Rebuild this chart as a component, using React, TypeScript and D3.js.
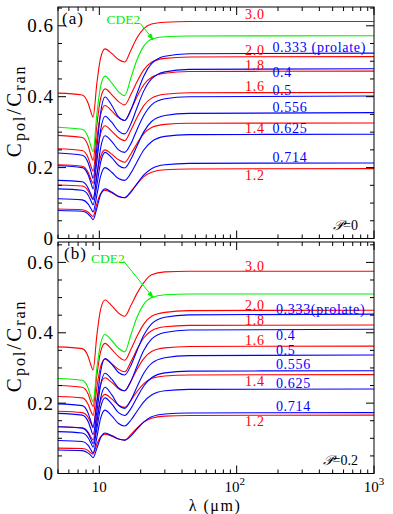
import React from 'react';
import * as d3 from 'd3';

// wavelength grid (micron), shared by every curve
const LAMBDA = [5, 7.5, 8.3, 8.7, 9.0, 9.6, 10.2, 11.0, 12.3, 13.8, 15.3, 17, 18.8, 21, 24, 30, 45, 1000];

// panel (a), P = 0
const A_OBL_30 = [0.410, 0.405, 0.381, 0.356, 0.342, 0.439, 0.508, 0.535, 0.522, 0.505, 0.498, 0.532, 0.566, 0.591, 0.605, 0.610, 0.612, 0.612];
const A_CDE2 = [0.314, 0.308, 0.285, 0.259, 0.245, 0.352, 0.428, 0.458, 0.439, 0.414, 0.403, 0.454, 0.504, 0.542, 0.562, 0.569, 0.571, 0.572];
const A_OBL_20 = [0.291, 0.285, 0.261, 0.234, 0.220, 0.321, 0.394, 0.422, 0.406, 0.386, 0.377, 0.407, 0.442, 0.475, 0.497, 0.508, 0.512, 0.513];
const A_OBL_18 = [0.253, 0.248, 0.227, 0.203, 0.190, 0.283, 0.349, 0.375, 0.360, 0.341, 0.333, 0.364, 0.400, 0.433, 0.455, 0.466, 0.471, 0.472];
const A_OBL_16 = [0.208, 0.204, 0.186, 0.166, 0.155, 0.237, 0.295, 0.318, 0.303, 0.284, 0.276, 0.306, 0.341, 0.374, 0.396, 0.407, 0.411, 0.412];
const A_OBL_14 = [0.151, 0.148, 0.134, 0.118, 0.110, 0.180, 0.230, 0.250, 0.238, 0.222, 0.215, 0.239, 0.268, 0.295, 0.313, 0.322, 0.325, 0.326];
const A_OBL_12 = [0.083, 0.081, 0.074, 0.066, 0.062, 0.099, 0.126, 0.136, 0.129, 0.118, 0.115, 0.133, 0.154, 0.174, 0.187, 0.194, 0.196, 0.197];
const A_PRO_333 = [0.241, 0.235, 0.213, 0.188, 0.170, 0.257, 0.353, 0.399, 0.376, 0.343, 0.333, 0.363, 0.409, 0.457, 0.493, 0.514, 0.521, 0.523];
const A_PRO_400 = [0.205, 0.200, 0.179, 0.156, 0.140, 0.218, 0.304, 0.345, 0.328, 0.303, 0.295, 0.324, 0.369, 0.415, 0.450, 0.470, 0.477, 0.479];
const A_PRO_500 = [0.164, 0.160, 0.142, 0.124, 0.110, 0.178, 0.254, 0.290, 0.274, 0.250, 0.243, 0.268, 0.307, 0.346, 0.377, 0.394, 0.400, 0.402];
const A_PRO_556 = [0.140, 0.136, 0.122, 0.106, 0.095, 0.151, 0.213, 0.243, 0.228, 0.206, 0.199, 0.224, 0.261, 0.300, 0.330, 0.347, 0.353, 0.355];
const A_PRO_625 = [0.112, 0.109, 0.097, 0.084, 0.075, 0.123, 0.175, 0.200, 0.187, 0.169, 0.164, 0.185, 0.216, 0.249, 0.273, 0.288, 0.293, 0.294];
const A_PRO_714 = [0.079, 0.077, 0.069, 0.060, 0.053, 0.086, 0.123, 0.140, 0.131, 0.119, 0.115, 0.131, 0.154, 0.179, 0.197, 0.208, 0.212, 0.213];

// panel (b), P = 0.2
const B_OBL_30 = [0.360, 0.355, 0.332, 0.307, 0.294, 0.394, 0.465, 0.493, 0.477, 0.456, 0.447, 0.478, 0.512, 0.542, 0.565, 0.573, 0.575, 0.575];
const B_CDE2 = [0.270, 0.265, 0.242, 0.217, 0.204, 0.300, 0.368, 0.395, 0.378, 0.356, 0.346, 0.395, 0.444, 0.480, 0.500, 0.508, 0.510, 0.510];
const B_OBL_20 = [0.250, 0.245, 0.225, 0.202, 0.190, 0.280, 0.345, 0.370, 0.353, 0.332, 0.322, 0.353, 0.390, 0.424, 0.447, 0.458, 0.463, 0.464];
const B_OBL_18 = [0.219, 0.215, 0.196, 0.176, 0.165, 0.245, 0.303, 0.325, 0.312, 0.296, 0.289, 0.318, 0.353, 0.385, 0.406, 0.417, 0.421, 0.422];
const B_OBL_16 = [0.177, 0.173, 0.159, 0.142, 0.133, 0.203, 0.253, 0.272, 0.259, 0.241, 0.235, 0.263, 0.296, 0.326, 0.347, 0.357, 0.361, 0.362];
const B_OBL_14 = [0.133, 0.130, 0.117, 0.103, 0.095, 0.160, 0.207, 0.225, 0.212, 0.194, 0.188, 0.208, 0.233, 0.255, 0.270, 0.277, 0.280, 0.281];
const B_OBL_12 = [0.072, 0.071, 0.065, 0.058, 0.055, 0.084, 0.104, 0.112, 0.106, 0.098, 0.095, 0.111, 0.129, 0.146, 0.157, 0.163, 0.165, 0.166];
const B_PRO_333 = [0.198, 0.193, 0.171, 0.147, 0.130, 0.205, 0.288, 0.327, 0.311, 0.287, 0.280, 0.308, 0.349, 0.392, 0.425, 0.444, 0.451, 0.453];
const B_PRO_400 = [0.171, 0.166, 0.147, 0.125, 0.110, 0.177, 0.250, 0.285, 0.268, 0.243, 0.235, 0.263, 0.305, 0.349, 0.382, 0.401, 0.408, 0.410];
const B_PRO_500 = [0.133, 0.129, 0.114, 0.097, 0.085, 0.146, 0.213, 0.245, 0.224, 0.194, 0.185, 0.209, 0.246, 0.284, 0.313, 0.329, 0.335, 0.337];
const B_PRO_556 = [0.119, 0.115, 0.101, 0.086, 0.075, 0.128, 0.187, 0.215, 0.198, 0.173, 0.165, 0.185, 0.216, 0.248, 0.272, 0.286, 0.291, 0.292];
const B_PRO_625 = [0.094, 0.091, 0.080, 0.067, 0.058, 0.104, 0.156, 0.180, 0.164, 0.142, 0.135, 0.152, 0.177, 0.203, 0.223, 0.235, 0.239, 0.240];
const B_PRO_714 = [0.067, 0.065, 0.058, 0.051, 0.045, 0.072, 0.101, 0.115, 0.108, 0.098, 0.095, 0.107, 0.126, 0.146, 0.161, 0.169, 0.172, 0.173];

// curve labels: text, family, label position (lambda, value)
const A_LABELS = [
  ['3.0', 'obl', 115, 0.619], ['2.0', 'obl', 115, 0.518], ['1.8', 'obl', 115, 0.475],
  ['1.6', 'obl', 115, 0.415], ['1.4', 'obl', 115, 0.298], ['1.2', 'obl', 115, 0.165],
  ['0.333 (prolate)', 'pro', 182, 0.527], ['0.4', 'pro', 182, 0.456], ['0.5', 'pro', 182, 0.405],
  ['0.556', 'pro', 182, 0.357], ['0.625', 'pro', 182, 0.298], ['0.714', 'pro', 182, 0.216],
];
const B_LABELS = [
  ['3.0', 'obl', 115, 0.576], ['2.0', 'obl', 115, 0.466], ['1.8', 'obl', 115, 0.422],
  ['1.6', 'obl', 115, 0.365], ['1.4', 'obl', 115, 0.249], ['1.2', 'obl', 115, 0.136],
  ['0.333(prolate)', 'pro', 193, 0.453], ['0.4', 'pro', 193, 0.379], ['0.5', 'pro', 193, 0.336],
  ['0.556', 'pro', 193, 0.296], ['0.625', 'pro', 193, 0.244], ['0.714', 'pro', 193, 0.178],
];

const X_MAJOR = [10, 100, 1000];
const X_MINOR = [5, 6, 7, 8, 9, 20, 30, 40, 50, 60, 70, 80, 90, 200, 300, 400, 500, 600, 700, 800, 900];
const Y_MAJOR = [0, 0.2, 0.4, 0.6];
const Y_MINOR = [0.05, 0.1, 0.15, 0.25, 0.3, 0.35, 0.45, 0.5, 0.55, 0.65];

const RED = '#ff0000';
const BLUE = '#0000ff';
const GREEN = '#00f000';
const SERIF = '"Liberation Serif", "Times New Roman", serif';

const x = d3.scaleLog().domain([5, 1000]).range([58, 374]);

function Panel({ top, bottom, ymax, oblate, prolate, cde, labels, tag, tagPos, cdePos, arrow, pval, xLabels }) {
  const y = d3.scaleLinear().domain([0, ymax]).range([bottom, top]);
  const line = d3.line<number>()
    .x((_, i) => x(LAMBDA[i]))
    .y(d => y(d))
    .curve(d3.curveMonotoneX);
  const [x0, x1] = x.range();
  const clipId = `clip-${tag}`;
  const ang = Math.atan2(y(arrow[3]) - y(arrow[1]), x(arrow[2]) - x(arrow[0]));
  const tipX = x(arrow[2]), tipY = y(arrow[3]);
  const head = [
    [tipX, tipY],
    [tipX - 8 * Math.cos(ang - 0.3), tipY - 8 * Math.sin(ang - 0.3)],
    [tipX - 8 * Math.cos(ang + 0.3), tipY - 8 * Math.sin(ang + 0.3)],
  ];
  return (
    <g>
      <defs>
        <clipPath id={clipId}>
          <rect x={x0} y={top} width={x1 - x0} height={bottom - top} />
        </clipPath>
      </defs>
      <g clipPath={`url(#${clipId})`} fill="none" strokeWidth={1.1}>
        {oblate.map((s, i) => <path key={'o' + i} d={line(s)} stroke={RED} />)}
        {prolate.map((s, i) => <path key={'p' + i} d={line(s)} stroke={BLUE} />)}
        <path d={line(cde)} stroke={GREEN} />
      </g>
      {/* frame */}
      <rect x={x0} y={top} width={x1 - x0} height={bottom - top} fill="none" stroke="#000" strokeWidth={1} />
      {/* ticks on all four sides, pointing inward */}
      <g stroke="#000" strokeWidth={1}>
        {X_MAJOR.map(t => (
          <g key={'xM' + t}>
            <line x1={x(t)} x2={x(t)} y1={bottom} y2={bottom - 8} />
            <line x1={x(t)} x2={x(t)} y1={top} y2={top + 8} />
          </g>
        ))}
        {X_MINOR.map(t => (
          <g key={'xm' + t}>
            <line x1={x(t)} x2={x(t)} y1={bottom} y2={bottom - 4} />
            <line x1={x(t)} x2={x(t)} y1={top} y2={top + 4} />
          </g>
        ))}
        {Y_MAJOR.map(t => (
          <g key={'yM' + t}>
            <line x1={x0} x2={x0 + 8} y1={y(t)} y2={y(t)} />
            <line x1={x1} x2={x1 - 8} y1={y(t)} y2={y(t)} />
          </g>
        ))}
        {Y_MINOR.filter(t => t < ymax).map(t => (
          <g key={'ym' + t}>
            <line x1={x0} x2={x0 + 4} y1={y(t)} y2={y(t)} />
            <line x1={x1} x2={x1 - 4} y1={y(t)} y2={y(t)} />
          </g>
        ))}
      </g>
      {/* y tick labels */}
      <g fontFamily={SERIF} fontSize={19} letterSpacing={1} textAnchor="end" fill="#000">
        {Y_MAJOR.map(t => (
          <text key={'yl' + t} x={x0 - 4} y={y(t)} dy="0.35em">{t === 0 ? '0' : t.toFixed(1)}</text>
        ))}
      </g>
      {xLabels && (
        <g fontFamily={SERIF} fontSize={15} textAnchor="middle" fill="#000">
          <text x={x(10)} y={bottom + 18.5}>10</text>
          <text x={x(100) - 2} y={bottom + 18.5}>10<tspan dy={-7} fontSize={11}>2</tspan></text>
          <text x={x(1000)} y={bottom + 18.5}>10<tspan dy={-7} fontSize={11}>3</tspan></text>
        </g>
      )}
      {/* y axis title */}
      <text transform={`translate(21, ${(top + bottom) / 2 - 12}) rotate(-90)`} textAnchor="middle"
        fontFamily={SERIF} fontSize={21} letterSpacing={2} fill="#000">
        C<tspan dy={4} fontSize={16}>pol</tspan><tspan dy={-4}>/C</tspan><tspan dy={4} fontSize={16}>ran</tspan>
      </text>
      {/* panel tag */}
      <text x={tagPos[0]} y={tagPos[1]} fontFamily={SERIF} fontSize={17} letterSpacing={1} fill="#000">{tag}</text>
      {/* curve labels */}
      <g fontFamily={SERIF} fontSize={14} letterSpacing={0.7}>
        {labels.map(([txt, kind, lam, v]) => (
          <text key={txt} x={x(lam)} y={y(v)} fill={kind === 'obl' ? RED : BLUE}>{txt}</text>
        ))}
      </g>
      {/* CDE2 annotation */}
      <text x={cdePos[0]} y={cdePos[1]} fontFamily={SERIF} fontSize={13.5} fill={GREEN}>CDE2</text>
      <line x1={x(arrow[0])} y1={y(arrow[1])} x2={tipX - 4 * Math.cos(ang)} y2={tipY - 4 * Math.sin(ang)} stroke={GREEN} strokeWidth={1} />
      <polygon points={head.map(p => p.join(',')).join(' ')} fill={GREEN} />
      {/* polarization parameter */}
      <text x={358} y={bottom - 9} textAnchor="end" fontFamily={SERIF} fontSize={14} fill="#000">
        <tspan fontFamily='"DejaVu Serif", "DejaVu Sans", serif' fontStyle="italic">𝒫</tspan>=0{pval}
      </text>
    </g>
  );
}

export default function App() {
  return (
    <svg width={393} height={514} style={{ position: 'absolute', left: 0, top: 0, background: '#fff' }}>
      <Panel
        top={7} bottom={238.5} ymax={0.653}
        oblate={[A_OBL_30, A_OBL_20, A_OBL_18, A_OBL_16, A_OBL_14, A_OBL_12]}
        prolate={[A_PRO_333, A_PRO_400, A_PRO_500, A_PRO_556, A_PRO_625, A_PRO_714]}
        cde={A_CDE2} labels={A_LABELS} tag="(a)" tagPos={[62, 23.5]} cdePos={[106.5, 24.3]}
        arrow={[19.8, 0.607, 25, 0.558]} pval="" xLabels={false}
      />
      <Panel
        top={242} bottom={473.5} ymax={0.658}
        oblate={[B_OBL_30, B_OBL_20, B_OBL_18, B_OBL_16, B_OBL_14, B_OBL_12]}
        prolate={[B_PRO_333, B_PRO_400, B_PRO_500, B_PRO_556, B_PRO_625, B_PRO_714]}
        cde={B_CDE2} labels={B_LABELS} tag="(b)" tagPos={[64, 258.5]} cdePos={[91, 263.3]}
        arrow={[15.0, 0.604, 25, 0.497]} pval=".2" xLabels={true}
      />
      <text x={215} y={510.5} textAnchor="middle" fontFamily={SERIF} fontSize={16} letterSpacing={1.5} fill="#000">
        λ (μm)
      </text>
    </svg>
  );
}
